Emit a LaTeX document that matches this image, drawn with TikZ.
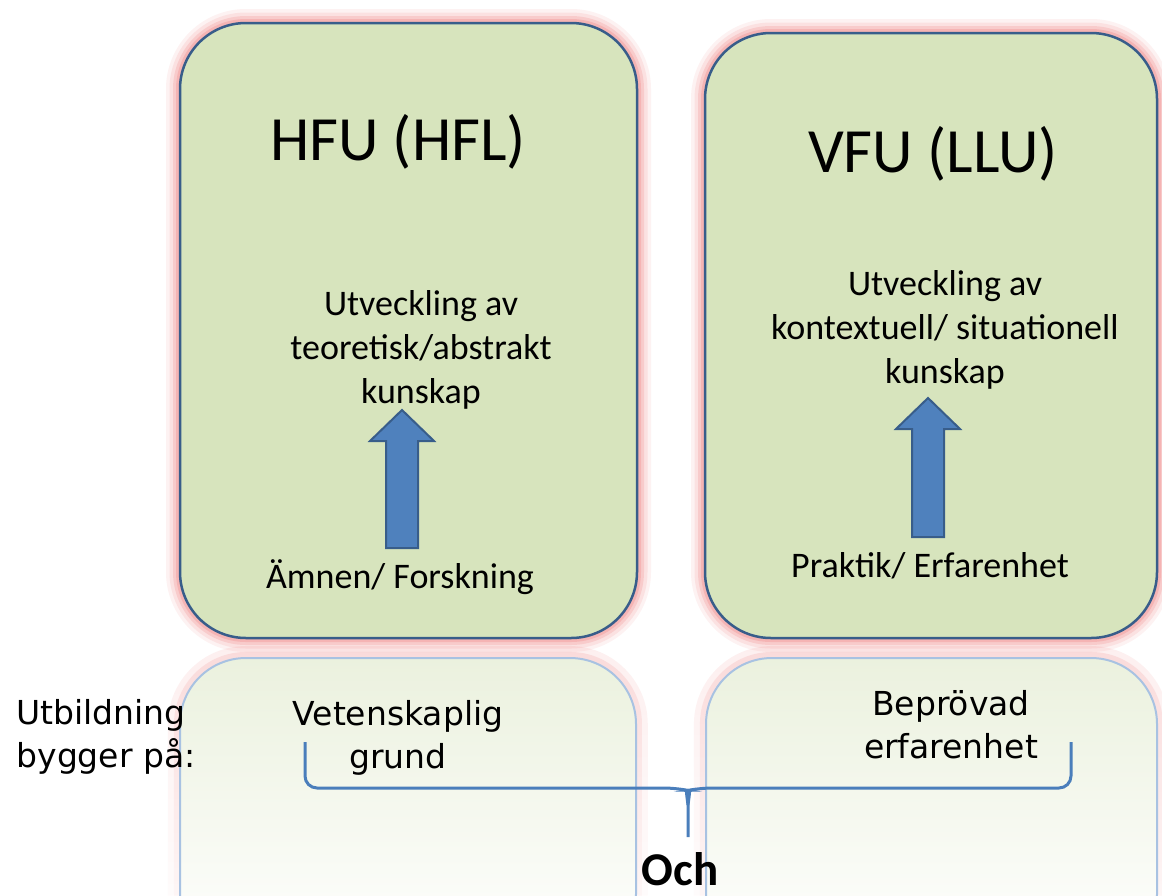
\documentclass[tikz,border=0pt]{standalone}
\usepackage{fontspec}
\setmainfont{Carlito}
\newfontfamily\handfont{DejaVu Sans}
\usetikzlibrary{calc,fadings}
\usepackage{xcolor}
\definecolor{boxgreen}{RGB}{215,228,189}
\definecolor{boxblue}{RGB}{56,93,138}
\definecolor{arrowblue}{RGB}{79,129,189}
\definecolor{braceblue}{RGB}{74,126,187}
\definecolor{glowred}{RGB}{240,128,128}
\definecolor{refgreen}{RGB}{235,241,222}
\definecolor{refblue}{RGB}{168,194,226}
\newcommand{\uparr}[2]{\draw[uparrow] ($(#1)+(-16,0)$) -- ($(#2)+(-16,31)$) -- ($(#2)+(-32,31)$) -- (#2) -- ($(#2)+(32,31)$) -- ($(#2)+(16,31)$) -- ($(#1)+(16,0)$) -- cycle;}

\begin{document}
\begin{tikzpicture}[x=1pt,y=-1pt]

    \tikzset{glow/.style = {preaction={draw=glowred, line width=28, opacity=0.1},
                            preaction={draw=glowred, line width=21, opacity=0.15},
                            preaction={draw=glowred, line width=14, opacity=0.22},
                            preaction={draw=glowred, line width=8, opacity=0.3}}}
    \tikzset{box/.style = {glow, fill=boxgreen, draw=boxblue, line width=2.5, rounded corners=66}}
    \tikzset{refl/.style = {preaction={draw=glowred, line width=24, opacity=0.12, path fading=south},
                            preaction={draw=glowred, line width=12, opacity=0.18, path fading=south},
                            draw=refblue, line width=2, rounded corners=66, top color=refgreen, bottom color=white}}
    \tikzset{head/.style = {font=\fontsize{63}{70}\selectfont, anchor=base}}
    \tikzset{txt/.style = {font=\fontsize{36}{44}\selectfont, align=center, anchor=base}}
    \tikzset{hand/.style = {font=\handfont\fontsize{33}{43}\selectfont, align=center, anchor=base}}
    \tikzset{uparrow/.style = {fill=arrowblue, draw=boxblue, line width=2}}
    \tikzset{brace/.style = {draw=braceblue, line width=3}}

    \useasboundingbox (0,0) rectangle (1162,895);
    \fill[white] (0,0) rectangle (1162,895);

    %reflections
    \begin{scope}
    \clip (0,0) rectangle (1162,895);
    \draw[refl] (180,658) rectangle (636,960);
    \draw[refl] (706,658) rectangle (1157,960);
    \end{scope}

    %boxes
    \draw[box] (180,23) rectangle (637,638);
    \draw[box] (705,33) rectangle (1157,638);

    \node[head] (hfu) at (398,160) {HFU (HFL)};
    \node[head] (vfu) at (933,172) {VFU (LLU)};
    \node[txt] (teori) at (421,403) {Utveckling av\\teoretisk/abstrakt\\kunskap};
    \node[txt] (kontext) at (945,383) {Utveckling av\\kontextuell/ situationell\\kunskap};
    \node[txt] (amnen) at (400,588) {Ämnen/ Forskning};
    \node[txt] (praktik) at (930,577) {Praktik/ Erfarenhet};

    %arrows
    \coordinate (hfuTail) at (402,548);
    \coordinate (hfuTip) at (402,410);
    \coordinate (vfuTail) at (928,537);
    \coordinate (vfuTip) at (928,398);
    \uparr{hfuTail}{hfuTip}
    \uparr{vfuTail}{vfuTip}

    %bottom
    \node[hand, align=left, anchor=base west] (utb) at (13,767) {Utbildning\\bygger på:};
    \node[hand] (vet) at (398,768) {Vetenskaplig\\grund};
    \node[hand] (bep) at (951,758) {Beprövad\\erfarenhet};
    \node[font=\bfseries\fontsize{47}{50}\selectfont, anchor=base] (och) at (680,885) {Och};

    %brace
    \coordinate (bl) at (305,742);
    \coordinate (br) at (1071,742);
    \coordinate (btip) at (688,837);
    \draw[brace] (bl) [rounded corners=12] |- ($(btip)+(-12,-49)$) [sharp corners] .. controls ($(btip)+(-2,-47)$) .. ($(btip)+(0,-32)$) -- (btip);
    \draw[brace] (br) [rounded corners=12] |- ($(btip)+(12,-49)$) [sharp corners] .. controls ($(btip)+(2,-47)$) .. ($(btip)+(0,-32)$);
\end{tikzpicture}
\end{document}
